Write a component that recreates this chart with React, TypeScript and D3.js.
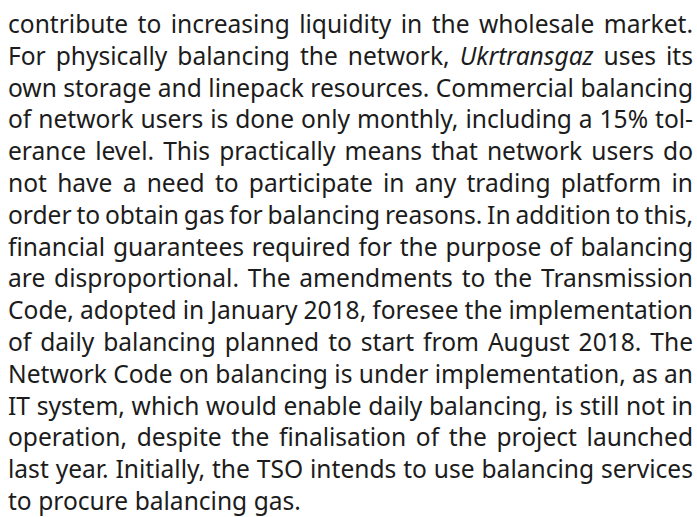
import React, { useEffect, useRef } from "react";
import * as d3 from "d3";

// Paragraph lines (as typeset in the reference); *word* marks italic words
const lines: string[] = [
  "contribute to increasing liquidity in the wholesale market.",
  "For physically balancing the network, *Ukrtransgaz* uses its",
  "own storage and linepack resources. Commercial balancing",
  "of network users is done only monthly, including a 15% tol-",
  "erance level. This practically means that network users do",
  "not have a need to participate in any trading platform in",
  "order to obtain gas for balancing reasons. In addition to this,",
  "financial guarantees required for the purpose of balancing",
  "are disproportional. The amendments to the Transmission",
  "Code, adopted in January 2018, foresee the implementation",
  "of daily balancing planned to start from August 2018. The",
  "Network Code on balancing is under implementation, as an",
  "IT system, which would enable daily balancing, is still not in",
  "operation, despite the finalisation of the project launched",
  "last year. Initially, the TSO intends to use balancing services",
  "to procure balancing gas.",
];

const W = 697;
const H = 517;
const LEFT = 8;
const RIGHT = 693;
const FIRST_BASELINE = 33;
const LAST_BASELINE = 510;
const LAST_LINE_WIDTH = 293;
const FONT = "'Noto Sans', 'Open Sans', sans-serif";
const COLOR = "#1c1c1c";

export default function App() {
  const ref = useRef<SVGSVGElement>(null);

  useEffect(() => {
    const svg = d3.select(ref.current);
    svg.selectAll("*").remove();

    const probe = svg
      .append("text")
      .attr("font-family", FONT)
      .attr("font-size", 100)
      .text(lines[lines.length - 1]);
    const w100 = (probe.node() as SVGTextElement).getComputedTextLength();
    probe.remove();
    const fs = (100 * LAST_LINE_WIDTH) / w100;

    const y = d3
      .scaleLinear()
      .domain([0, lines.length - 1])
      .range([FIRST_BASELINE, LAST_BASELINE]);

    const g = svg
      .append("g")
      .attr("font-family", FONT)
      .attr("font-size", fs)
      .attr("fill", COLOR);

    lines.forEach((line, i) => {
      const words = line.split(" ").map((w) => {
        const italic = w.startsWith("*") && w.endsWith("*");
        return { text: italic ? w.slice(1, -1) : w, italic };
      });
      const nodes = words.map((w) =>
        g
          .append("text")
          .attr("y", y(i))
          .attr("font-style", w.italic ? "italic" : "normal")
          .text(w.text)
      );
      const widths = nodes.map((n) =>
        (n.node() as SVGTextElement).getComputedTextLength()
      );
      const total = d3.sum(widths);
      const isLast = i === lines.length - 1;
      const spaceProbe = g.append("text").text("a a");
      const aProbe = g.append("text").text("aa");
      const spaceW =
        (spaceProbe.node() as SVGTextElement).getComputedTextLength() -
        (aProbe.node() as SVGTextElement).getComputedTextLength();
      spaceProbe.remove();
      aProbe.remove();
      const gap =
        isLast || words.length < 2
          ? spaceW
          : (RIGHT - LEFT - total) / (words.length - 1);
      let x = LEFT;
      nodes.forEach((n, k) => {
        n.attr("x", x);
        x += widths[k] + gap;
      });
    });
  }, []);

  return (
    <svg
      ref={ref}
      width={W}
      height={H}
      style={{ position: "absolute", left: 0, top: 0, background: "#fff" }}
    />
  );
}
